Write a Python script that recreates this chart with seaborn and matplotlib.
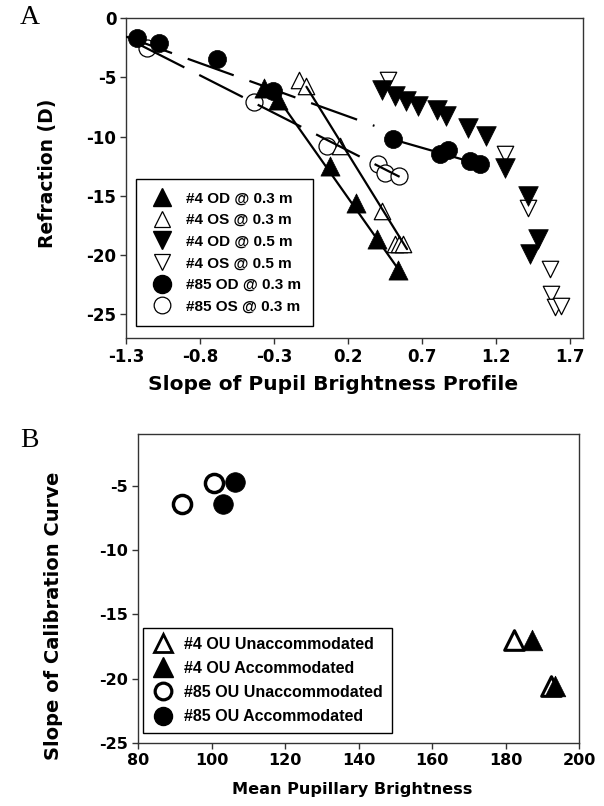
import numpy as np
import pandas as pd
import matplotlib
matplotlib.use("Agg")
import matplotlib.pyplot as plt
from matplotlib.lines import Line2D
import seaborn as sns

# ---------------- Panel A data ----------------
od4_03_x = [-0.37, -0.27, 0.08, 0.258, 0.394, 0.54]
od4_03_y = [-5.9, -6.9, -12.45, -15.6, -18.66, -21.3]

os4_03_x = [-0.13, -0.08, 0.146, 0.428, 0.518, 0.545, 0.574]
os4_03_y = [-5.2, -5.77, -10.8, -16.3, -19.1, -19.1, -19.1]

od4_05_x = [0.428, 0.517, 0.596, 0.675, 0.80, 0.867, 1.013, 1.137, 1.261, 1.418, 1.486, 1.43]
od4_05_y = [-6.05, -6.6, -7.03, -7.45, -7.73, -8.24, -9.27, -9.97, -12.63, -15.0, -18.66, -19.9]

os4_05_x = [0.472, 1.261, 1.418, 1.565, 1.576, 1.60, 1.644]
os4_05_y = [-5.2, -11.5, -16.0, -21.2, -23.3, -24.4, -24.26]

od85_03_x = [-1.224, -1.08, -0.687, -0.309, 0.506, 0.82, 0.878, 1.024, 1.092]
od85_03_y = [-1.65, -2.07, -3.47, -6.19, -10.25, -11.5, -11.1, -12.07, -12.35]

os85_03_x = [-1.16, -0.435, 0.06, 0.405, 0.45, 0.547]
os85_03_y = [-2.55, -7.12, -10.76, -12.35, -13.05, -13.33]

# fitted lines (endpoints)
fit_od4_03_x = [-0.30, 0.57]
fit_od4_03_y = [-6.3, -21.7]
fit_os4_03_x = [-0.08, 0.60]
fit_os4_03_y = [-5.8, -19.5]
fit_od85_dash_x = [-1.30, 0.38]
fit_od85_dash_y = [-1.57, -9.1]
fit_od85_solid_x = [0.506, 1.092]
fit_od85_solid_y = [-10.25, -12.35]
fit_os85_dash_x = [-1.20, 0.55]
fit_os85_dash_y = [-2.3, -13.4]

a_xticks = [-1.3, -0.8, -0.3, 0.2, 0.7, 1.2, 1.7]
a_yticks = [0, -5, -10, -15, -20, -25]
a_labels = ["#4 OD @ 0.3 m", "#4 OS @ 0.3 m", "#4 OD @ 0.5 m",
            "#4 OS @ 0.5 m", "#85 OD @ 0.3 m", "#85 OS @ 0.3 m"]

# ---------------- Panel B data ----------------
b_un4_x = [182.2, 192.3]
b_un4_y = [-17.0, -20.6]
b_ac4_x = [187.3, 193.6]
b_ac4_y = [-17.0, -20.6]
b_un85_x = [92.0, 100.7]
b_un85_y = [-6.4, -4.77]
b_ac85_x = [106.4, 103.2]
b_ac85_y = [-4.7, -6.4]

b_xticks = [80, 100, 120, 140, 160, 180, 200]
b_yticks = [-5, -10, -15, -20, -25]
b_labels = ["#4 OU Unaccommodated", "#4 OU Accommodated",
            "#85 OU Unaccommodated", "#85 OU Accommodated"]

# ---------------- style ----------------
sns.set_style("ticks")
plt.rcParams['font.family'] = ['Liberation Sans', 'DejaVu Sans']
plt.rcParams['font.weight'] = 'bold'
plt.rcParams['text.color'] = 'black'
plt.rcParams['axes.labelcolor'] = 'black'
plt.rcParams['xtick.color'] = 'black'
plt.rcParams['ytick.color'] = 'black'

WIDE = ['DejaVu Sans']

fig = plt.figure(figsize=(6.04, 8.06), dpi=100)
axA = fig.add_axes([126/604, 1-338/806, 457/604, 320/806])
axB = fig.add_axes([138/604, 1-743/806, 441/604, 309/806])

def style_axes(ax, tsize):
    for s in ax.spines.values():
        s.set_color('#333333')
        s.set_linewidth(1.0)
        s.set_visible(True)
    ax.tick_params(direction='out', length=4, width=1, color='#333333',
                   labelcolor='black', pad=3)
    for lab in ax.get_xticklabels() + ax.get_yticklabels():
        lab.set_fontweight('bold')
        lab.set_fontfamily(WIDE)
        lab.set_fontsize(tsize)

def scatter(ax, x, y, marker, filled, size, lw=0.8, z=3):
    df = pd.DataFrame({'x': x, 'y': y})
    sns.scatterplot(data=df, x='x', y='y', ax=ax, marker=marker, s=size,
                    color='black' if filled else 'white',
                    edgecolor='black', linewidth=lw, zorder=z, legend=False)

def fitline(ax, x, y, dashed=False):
    df = pd.DataFrame({'x': x, 'y': y})
    sns.lineplot(data=df, x='x', y='y', ax=ax, color='black', linewidth=1.6,
                 estimator=None, sort=False, zorder=4, legend=False)
    if dashed:
        ax.lines[-1].set_dashes((22, 7.5))

# ---------------- Panel A ----------------
scatter(axA, os85_03_x, os85_03_y, 'o', False, 150, 0.9, 2)
scatter(axA, os4_03_x, os4_03_y, '^', False, 140, 0.9, 2)
scatter(axA, os4_05_x, os4_05_y, 'v', False, 140, 0.9, 2)
fitline(axA, fit_od85_dash_x, fit_od85_dash_y, dashed=True)
fitline(axA, fit_os85_dash_x, fit_os85_dash_y, dashed=True)
fitline(axA, fit_od85_solid_x, fit_od85_solid_y)
fitline(axA, fit_od4_03_x, fit_od4_03_y)
fitline(axA, fit_os4_03_x, fit_os4_03_y)
scatter(axA, od85_03_x, od85_03_y, 'o', True, 170, 0.5, 5)
scatter(axA, od4_03_x, od4_03_y, '^', True, 190, 0.5, 5)
scatter(axA, od4_05_x, od4_05_y, 'v', True, 200, 0.5, 5)

axA.set_xlim(-1.3, 1.79)
axA.set_ylim(-27, 0)
axA.set_xticks(a_xticks)
axA.set_xticklabels([f"{t:.1f}" for t in a_xticks])
axA.set_yticks(a_yticks)
axA.set_yticklabels([str(t) for t in a_yticks])
axA.set_xlabel("Slope of Pupil Brightness Profile", fontsize=14.5,
               fontweight='bold', family=WIDE)
axA.set_ylabel("Refraction (D)", fontsize=13.5, fontweight='bold', family=WIDE)
axA.xaxis.set_label_coords(0.453, -0.115)
axA.yaxis.set_label_coords(-0.151, 0.515)
style_axes(axA, 12)

hA = [
    Line2D([], [], ls='none', marker='^', ms=13, mfc='black', mec='black'),
    Line2D([], [], ls='none', marker='^', ms=11, mfc='white', mec='black', mew=0.9),
    Line2D([], [], ls='none', marker='v', ms=13, mfc='black', mec='black'),
    Line2D([], [], ls='none', marker='v', ms=11, mfc='white', mec='black', mew=0.9),
    Line2D([], [], ls='none', marker='o', ms=13, mfc='black', mec='black'),
    Line2D([], [], ls='none', marker='o', ms=12, mfc='white', mec='black', mew=0.9),
]
legA = axA.legend(hA, a_labels, loc='upper left', bbox_to_anchor=(0.021, 0.496),
                  borderaxespad=0, frameon=True, fancybox=False, edgecolor='black',
                  framealpha=1, prop={'size': 11, 'weight': 'bold'},
                  labelspacing=0.5, handletextpad=0.69, handlelength=1.8,
                  borderpad=0.8)
legA.get_frame().set_linewidth(1.0)

# ---------------- Panel B ----------------
scatter(axB, b_un4_x, b_un4_y, '^', False, 200, 2.2, 3)
scatter(axB, b_ac4_x, b_ac4_y, '^', True, 220, 0.5, 4)
scatter(axB, b_un85_x, b_un85_y, 'o', False, 170, 2.5, 3)
scatter(axB, b_ac85_x, b_ac85_y, 'o', True, 200, 0.5, 4)

axB.set_xlim(80, 200)
axB.set_ylim(-25, -1)
axB.set_xticks(b_xticks)
axB.set_xticklabels([str(t) for t in b_xticks])
axB.set_yticks(b_yticks)
axB.set_yticklabels([str(t) for t in b_yticks])
axB.set_xlabel("Mean Pupillary Brightness", fontsize=11.6, fontweight='bold',
               family=WIDE)
axB.set_ylabel("Slope of Calibration Curve", fontsize=14, fontweight='bold',
               family=WIDE)
axB.xaxis.set_label_coords(0.485, -0.125)
axB.yaxis.set_label_coords(-0.17, 0.41)
style_axes(axB, 11.5)

hB = [
    Line2D([], [], ls='none', marker='^', ms=13, mfc='white', mec='black', mew=2.0),
    Line2D([], [], ls='none', marker='^', ms=14, mfc='black', mec='black'),
    Line2D([], [], ls='none', marker='o', ms=12, mfc='white', mec='black', mew=2.3),
    Line2D([], [], ls='none', marker='o', ms=13, mfc='black', mec='black'),
]
legB = axB.legend(hB, b_labels, loc='upper left', bbox_to_anchor=(0.012, 0.373),
                  borderaxespad=0, frameon=True, fancybox=False, edgecolor='black',
                  framealpha=1, prop={'size': 11.5, 'weight': 'bold'},
                  labelspacing=0.58, handletextpad=0.6, handlelength=1.4,
                  borderpad=0.55)
legB.get_frame().set_linewidth(1.0)

fig.text(20/604, 1-18/806, "A", fontsize=20, family='Liberation Serif',
         fontweight='normal', va='center', ha='left')
fig.text(20/604, 1-440/806, "B", fontsize=20, family='Liberation Serif',
         fontweight='normal', va='center', ha='left')

fig.savefig("out.png", dpi=100)
